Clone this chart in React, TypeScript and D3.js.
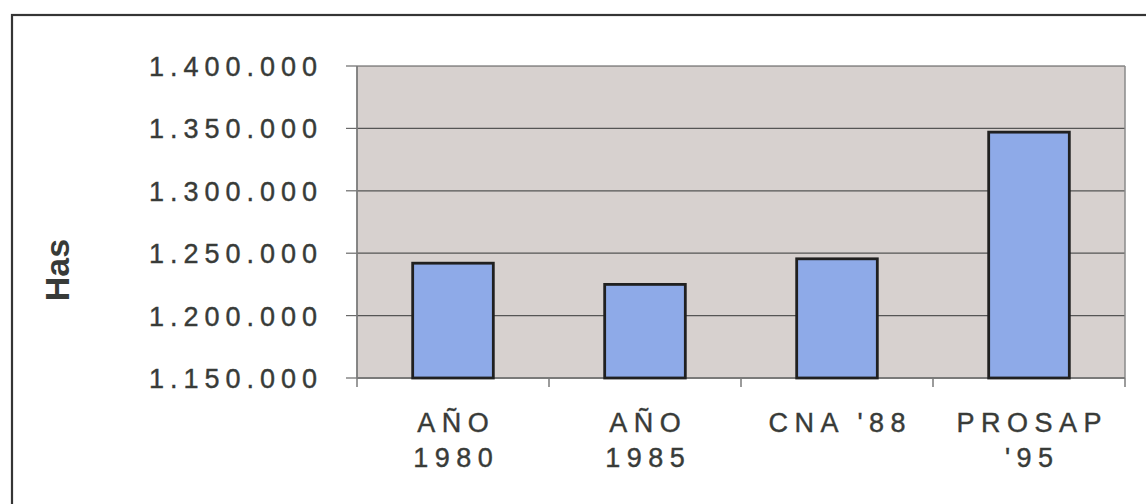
import React from "react";
import * as d3 from "d3";

const categories: string[][] = [["AÑO", "1980"], ["AÑO", "1985"], ["CNA '88"], ["PROSAP", "'95"]];
const values: number[] = [1242000, 1225000, 1245500, 1347000];
const yTicks: number[] = [1150000, 1200000, 1250000, 1300000, 1350000, 1400000];
const yLabel = "Has";

const W = 1146;
const H = 504;
const plot = { left: 357, right: 1125, top: 66, bottom: 378 };
const textColor = "#383b38";
const font = "Arial, 'Liberation Sans', Helvetica, sans-serif";

const fmt = (v: number) => d3.format(",")(v).replace(/,/g, ".");

export default function App() {
  const x = d3
    .scaleBand<number>()
    .domain(categories.map((_, i) => i))
    .range([plot.left, plot.right])
    .paddingInner(0.58)
    .paddingOuter(0.29);
  const xb = d3
    .scaleBand<number>()
    .domain(categories.map((_, i) => i))
    .range([plot.left, plot.right]);
  const y = d3.scaleLinear().domain([1150000, 1400000]).range([plot.bottom, plot.top]);
  const ls = 6;
  const lsx = 6.5;

  return (
    <svg
      width={W}
      height={H}
      style={{ position: "absolute", left: 0, top: 0, background: "#ffffff" }}
      fontFamily={font}
    >
      <rect x={12} y={15} width={W + 20} height={H + 20} fill="#ffffff" stroke="#353535" strokeWidth={2.2} />
      <rect
        x={plot.left}
        y={plot.top}
        width={plot.right - plot.left}
        height={plot.bottom - plot.top}
        fill="#d7d1cf"
      />
      {yTicks.map((t) => (
        <g key={t}>
          <line x1={plot.left} x2={plot.right} y1={y(t)} y2={y(t)} stroke="#555" strokeWidth={1.2} />
          <line x1={plot.left - 11} x2={plot.left} y1={y(t)} y2={y(t)} stroke="#6a6a6a" strokeWidth={1.2} />
          <text
            x={317 + ls}
            y={y(t) + 10}
            textAnchor="end"
            fontSize={27}
            letterSpacing={ls}
            fill={textColor}
            stroke={textColor}
            strokeWidth={0.4}
          >
            {fmt(t)}
          </text>
        </g>
      ))}
      <line x1={plot.right} x2={plot.right} y1={plot.top} y2={plot.bottom} stroke="#8a8a8a" strokeWidth={1.5} />
      <line x1={plot.left} x2={plot.left} y1={plot.top} y2={plot.bottom} stroke="#7a7a7a" strokeWidth={1.8} />
      <line x1={plot.left} x2={plot.right} y1={plot.bottom} y2={plot.bottom} stroke="#7a7a7a" strokeWidth={1.8} />
      {categories.map((_, i) => (
        <line
          key={i}
          x1={xb(i)!}
          x2={xb(i)!}
          y1={plot.bottom}
          y2={plot.bottom + 9}
          stroke="#7a7a7a"
          strokeWidth={1.5}
        />
      ))}
      <line x1={plot.right} x2={plot.right} y1={plot.bottom} y2={plot.bottom + 9} stroke="#7a7a7a" strokeWidth={1.5} />
      {values.map((v, i) => (
        <rect
          key={i}
          x={x(i)!}
          y={y(v)}
          width={x.bandwidth()}
          height={plot.bottom - y(v)}
          fill="#8eaae8"
          stroke="#202020"
          strokeWidth={2.8}
        />
      ))}
      {categories.map((lines, i) => (
        <text
          key={i}
          x={xb(i)! + xb.bandwidth() / 2 + lsx / 2}
          textAnchor="middle"
          fontSize={27}
          letterSpacing={lsx}
          fill={textColor}
          stroke={textColor}
          strokeWidth={0.4}
        >
          {lines.map((l, j) => (
            <tspan key={j} x={xb(i)! + xb.bandwidth() / 2 + lsx / 2} y={432 + j * 35}>
              {l}
            </tspan>
          ))}
        </text>
      ))}
      <text
        transform="translate(69,270) rotate(-90)"
        textAnchor="middle"
        fontSize={34}
        fontWeight="bold"
        fill={textColor}
      >
        {yLabel}
      </text>
    </svg>
  );
}
